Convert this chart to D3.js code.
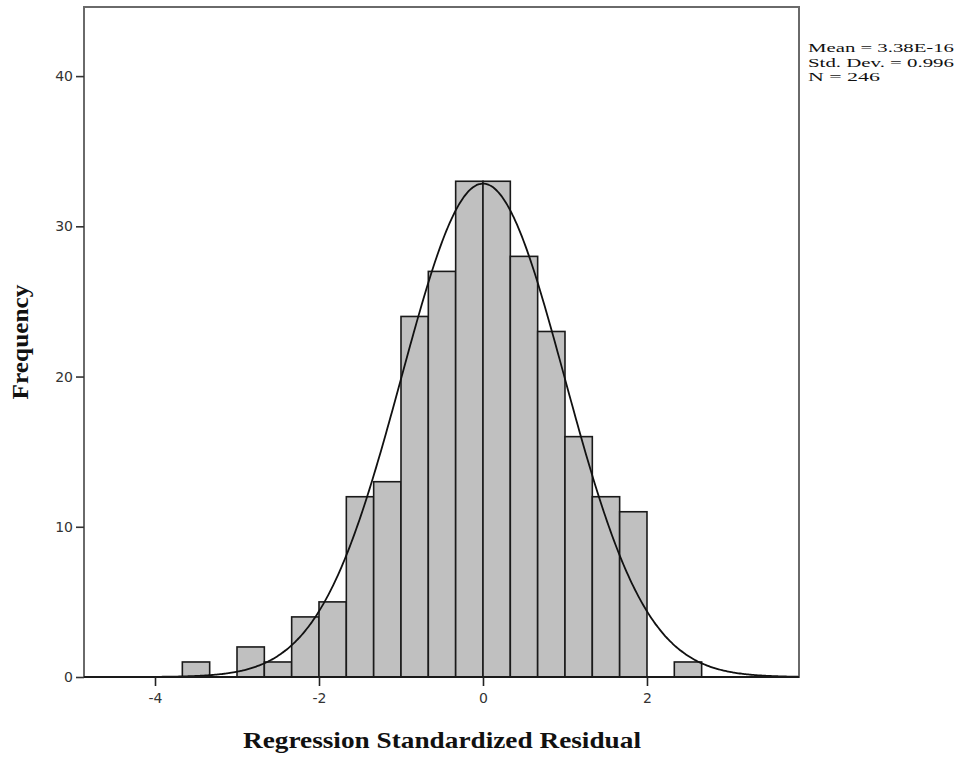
<!DOCTYPE html>
<html>
<head>
<meta charset="utf-8">
<script src="https://cdn.jsdelivr.net/npm/d3@7"></script>
<style>
html,body{margin:0;padding:0;background:#fff;}
svg{display:block;}
</style>
</head>
<body>
<svg id="chart" width="959" height="758"></svg>
<script>
// Data
const binStarts = [-3.6667,-3.0,-2.6667,-2.3333,-2.0,-1.6667,-1.3333,-1.0,-0.6667,-0.3333,0,0.3333,0.6667,1.0,1.3333,1.6667,2.3333];
const binWidth = 1/3;
const counts = [1,2,1,4,5,12,13,24,27,33,33,28,23,16,12,11,1];
const xTicks = [-4,-2,0,2];
const yTicks = [0,10,20,30,40];
const statsMean = 3.38e-16;
const statsSD = 0.996;
const statsN = 246;
const legendLines = ["Mean = 3.38E-16","Std. Dev. = 0.996","N = 246"];

const svg = d3.select("#chart");
const L = 84, R = 799, T = 7, B = 677;
const x = d3.scaleLinear().domain([-4.866, 3.854]).range([L, R]);
const y = d3.scaleLinear().domain([0, 44.6]).range([B, T]);

// bars
svg.append("g").selectAll("rect").data(binStarts).join("rect")
  .attr("x", (d)=>x(d))
  .attr("width", (d)=>x(d+binWidth)-x(d))
  .attr("y", (d,i)=>y(counts[i]))
  .attr("height", (d,i)=>y(0)-y(counts[i]))
  .attr("fill", "#c0c0c0")
  .attr("stroke", "#1a1a1a")
  .attr("stroke-width", 1.6);

// normal curve
const pts = d3.range(-4.866, 3.855, 0.02).map(v => [v, statsN*binWidth*Math.exp(-0.5*Math.pow((v-statsMean)/statsSD,2))/(statsSD*Math.sqrt(2*Math.PI))]);
svg.append("path").datum(pts)
  .attr("d", d3.line().x(d=>x(d[0])).y(d=>y(d[1])).curve(d3.curveBasis))
  .attr("fill","none").attr("stroke","#111").attr("stroke-width",1.8);

// frame
svg.append("rect").attr("x",L).attr("y",T).attr("width",R-L).attr("height",B-T)
  .attr("fill","none").attr("stroke","#6a6a6a").attr("stroke-width",2);
svg.append("line").attr("x1",L).attr("x2",R).attr("y1",B).attr("y2",B)
  .attr("stroke","#1a1a1a").attr("stroke-width",2.2);

// axes
const xa = svg.append("g").attr("transform",`translate(0,${B})`)
  .call(d3.axisBottom(x).tickValues(xTicks).tickSize(9).tickSizeOuter(0).tickPadding(7).tickFormat(d=>String(d)));
xa.select(".domain").remove();
xa.selectAll("line").attr("stroke","#222").attr("stroke-width",1.6);
xa.selectAll("text").attr("font-family","'DejaVu Sans', sans-serif").attr("font-size",14).attr("fill","#333");

const ya = svg.append("g").attr("transform",`translate(${L},0)`)
  .call(d3.axisLeft(y).tickValues(yTicks).tickSize(8).tickSizeOuter(0).tickPadding(3).tickFormat(d=>String(d)));
ya.select(".domain").remove();
ya.selectAll("line").attr("stroke","#333").attr("stroke-width",1.6);
ya.selectAll("text").attr("font-family","'DejaVu Sans', sans-serif").attr("font-size",14).attr("fill","#333");

// axis titles
svg.append("text").attr("x",442).attr("y",748).attr("text-anchor","middle")
  .attr("font-family","'Liberation Serif', serif").attr("font-weight","bold").attr("font-size",23)
  .attr("textLength",398).attr("lengthAdjust","spacingAndGlyphs")
  .attr("fill","#111").text("Regression Standardized Residual");
svg.append("text").attr("transform","translate(28,342) rotate(-90)").attr("text-anchor","middle")
  .attr("font-family","'Liberation Serif', serif").attr("font-weight","bold").attr("font-size",23)
  .attr("textLength",115).attr("lengthAdjust","spacingAndGlyphs")
  .attr("fill","#111").text("Frequency");

// legend
svg.append("g").selectAll("text").data(legendLines).join("text")
  .attr("x",808).attr("y",(d,i)=>52+i*14.6)
  .attr("font-family","'Liberation Serif', serif").attr("font-size",13).attr("fill","#111")
  .attr("textLength",(d,i)=>[146,146,72][i]).attr("lengthAdjust","spacingAndGlyphs")
  .text(d=>d);
</script>
</body>
</html>
